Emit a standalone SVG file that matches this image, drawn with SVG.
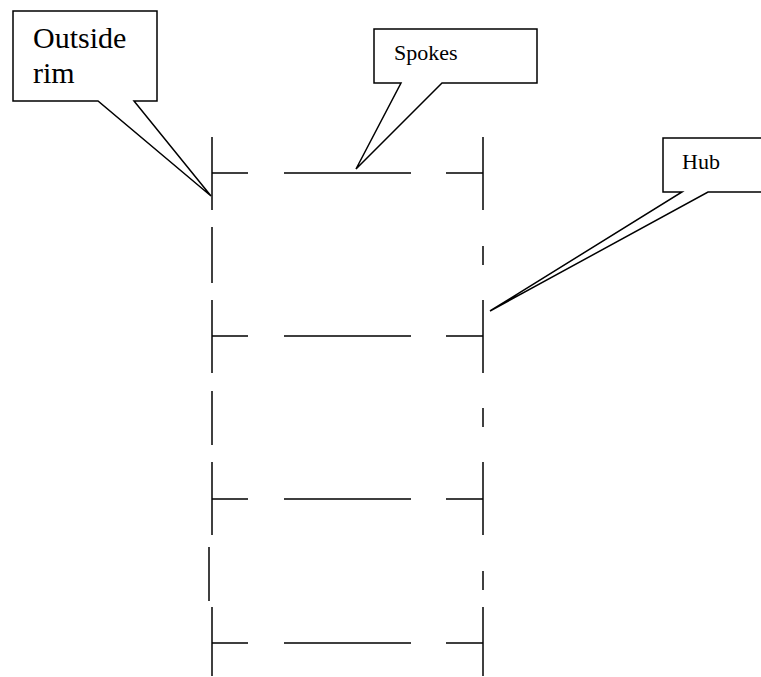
<svg xmlns="http://www.w3.org/2000/svg" width="761" height="677" viewBox="0 0 761 677">
  <style>
    .ln { stroke: #000; stroke-width: 1.5; fill: none; }
    .callout { stroke: #000; stroke-width: 1.5; fill: #fff; stroke-linejoin: miter; }
    .lbl { fill: #000; }
  </style>
  <rect width="761" height="677" fill="#fff"/>

  <!-- wheel drawn as dashed rim, hub and spokes -->
  <g id="connectors">
    <!-- outside rim (left) -->
    <g id="rim">
      <line class="ln" x1="212" y1="137" x2="212" y2="210"/>
      <line class="ln" x1="212" y1="227" x2="212" y2="283"/>
      <line class="ln" x1="212" y1="300" x2="212" y2="373"/>
      <line class="ln" x1="212" y1="391" x2="212" y2="445"/>
      <line class="ln" x1="212" y1="462" x2="212" y2="535"/>
      <line class="ln" x1="209" y1="547" x2="209" y2="601"/>
      <line class="ln" x1="212" y1="607" x2="212" y2="676"/>
    </g>
    <!-- hub (right) -->
    <g id="hub">
      <line class="ln" x1="483" y1="137" x2="483" y2="210"/>
      <line class="ln" x1="483" y1="246" x2="483" y2="265"/>
      <line class="ln" x1="483" y1="300" x2="483" y2="373"/>
      <line class="ln" x1="483" y1="408" x2="483" y2="427"/>
      <line class="ln" x1="483" y1="462" x2="483" y2="535"/>
      <line class="ln" x1="483" y1="571" x2="483" y2="590"/>
      <line class="ln" x1="483" y1="607" x2="483" y2="676"/>
    </g>
    <!-- spokes -->
    <g id="spokes">
      <path class="ln" d="M212 173H248M284 173H411M446 173H483"/>
      <path class="ln" d="M212 336H248M284 336H411M446 336H483"/>
      <path class="ln" d="M212 499H248M284 499H411M446 499H483"/>
      <path class="ln" d="M212 643H248M284 643H411M446 643H483"/>
    </g>
  </g>

  <!-- callout: outside rim -->
  <g id="callout-rim">
    <path class="callout" d="M13 11H157V101H134L211 196L98 101H13Z"/>
    <text class="lbl" x="33" y="48" font-size="30" font-family="Liberation Serif, DejaVu Serif, serif">Outside</text>
    <text class="lbl" x="33" y="83" font-size="30" font-family="Liberation Serif, DejaVu Serif, serif">rim</text>
  </g>

  <!-- callout: spokes -->
  <g id="callout-spokes">
    <path class="callout" d="M374 29H537V83H442L356 169L401 83H374Z"/>
    <text class="lbl" x="394" y="60" font-size="22" font-family="Liberation Serif, DejaVu Serif, serif">Spokes</text>
  </g>

  <!-- callout: hub -->
  <g id="callout-hub">
    <path class="callout" d="M663 138H770V192H708L490 311L682 192H663Z"/>
    <text class="lbl" x="682" y="169" font-size="22" font-family="Liberation Serif, DejaVu Serif, serif">Hub</text>
  </g>
</svg>
